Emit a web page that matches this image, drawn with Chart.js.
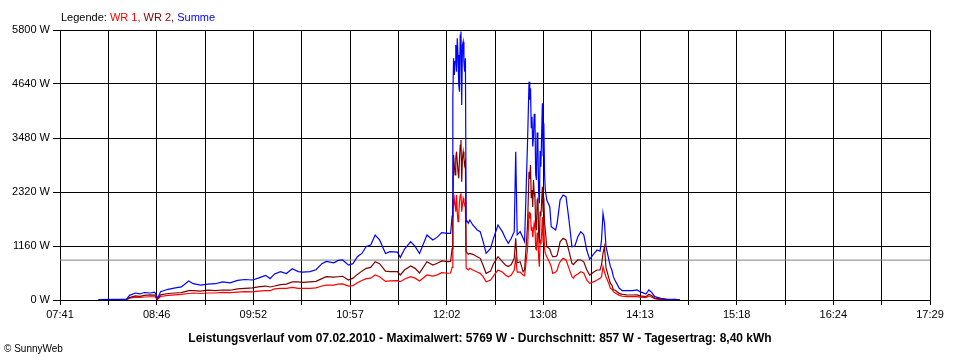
<!DOCTYPE html>
<html><head><meta charset="utf-8">
<script src="https://cdn.jsdelivr.net/npm/chart.js@4.4.1/dist/chart.umd.min.js"></script>
<style>
html,body{margin:0;padding:0;background:#fff;}
#wrap{position:relative;width:960px;height:360px;overflow:hidden;font-family:"Liberation Sans",Arial,sans-serif;color:#000;}
canvas{position:absolute;left:0;top:0;}
#legend{position:absolute;left:61px;top:11px;font-size:11px;line-height:12px;white-space:nowrap;}
#title{position:absolute;left:0;width:960px;top:331px;text-align:center;font-weight:bold;font-size:12px;line-height:14px;white-space:nowrap;}
#copy{position:absolute;left:4px;top:343px;font-size:10px;line-height:12px;white-space:nowrap;}
</style></head>
<body>
<div id="wrap">
<canvas id="c" width="960" height="360"></canvas>
<div id="legend">Legende: <span style="color:#ff0000">WR 1,</span> <span style="color:#800000">WR 2,</span> <span style="color:#0000ff">Summe</span></div>
<div id="title">Leistungsverlauf vom 07.02.2010 - Maximalwert: 5769 W - Durchschnitt: 857 W - Tagesertrag: 8,40 kWh</div>
<div id="copy">© SunnyWeb</div>
</div>
<script>
const times = [
 '08:07','08:18','08:26','08:28','08:32','08:35','08:38','08:42','08:45','08:47','08:49','08:54','08:59','09:03','09:08','09:11','09:16','09:21','09:26','09:31','09:36','09:41','09:46','09:51','09:55','10:00','10:03','10:06','10:10','10:14','10:18','10:22','10:25','10:30','10:34','10:38','10:41','10:46','10:49','10:52','10:56','10:59','11:02','11:05','11:08','11:11','11:14','11:17','11:21','11:24','11:29','11:31','11:34','11:38','11:41','11:44','11:49','11:53','11:56','11:59','12:03','12:05',
 '12:06','12:06:30','12:07','12:07:30','12:08','12:08:30','12:09','12:09:30','12:10','12:10:30','12:11','12:11:30','12:12','12:12:30','12:13','12:13:30','12:14','12:14:30','12:15','12:15:30','12:16','12:17',
 '12:18','12:20','12:23','12:25','12:27','12:29','12:32','12:34','12:37','12:40','12:42','12:44','12:46','12:48','12:49','12:50','12:52','12:54','12:55','12:57',
 '12:58','12:58:30','12:59','12:59:30','13:00','13:00:30','13:01','13:01:30','13:02','13:02:30','13:03','13:03:30','13:04','13:04:30','13:05','13:05:30','13:06','13:06:30','13:07','13:07:30','13:08','13:08:30','13:09',
 '13:10','13:12','13:13','13:14','13:16','13:17','13:18','13:19','13:21','13:23','13:25','13:27','13:28','13:29','13:31','13:33','13:35','13:37','13:39','13:42','13:44','13:46','13:47','13:48','13:49','13:50','13:52','13:53','13:54','13:55','13:56','13:59','14:01','14:04','14:08','14:11','14:13','14:17','14:19','14:21','14:23','14:27','14:31','14:37','14:40'
];
const summe = [
 10,15,20,100,150,130,160,150,170,40,180,230,260,280,410,350,320,340,350,390,370,420,440,430,470,530,460,560,610,570,670,610,600,610,650,780,830,800,850,860,750,780,930,1000,1150,1180,1396,1290,1000,1040,1030,916,1100,1253,1150,1000,1396,1289,1350,1446,1432,1430,
 1800,4332,5192,4833,5119,5477,4904,5620,5262,4618,4474,5692,5769,4189,5477,5549,5119,4904,5192,1682,1700,1650,
 1718,1611,1504,1468,1253,1002,1110,1325,1611,1468,1325,1217,1325,1468,3186,1400,1468,1325,1250,3400,
 4690,4300,4547,3700,3937,3300,3508,4000,3866,2700,2578,3600,3293,2300,2077,3200,2864,3500,4225,3100,3795,2700,2363,
 2148,2005,1575,1550,1504,1647,1900,2148,2255,2220,1718,1145,1150,1160,1360,1468,1400,1074,874,1002,1074,1050,1289,1862,1647,1150,859,716,644,501,430,251,200,200,200,215,179,129,215,160,72,36,21,14,0
];
const wr2 = [
 0,5,10,50,90,80,100,110,105,25,110,140,150,160,200,200,190,210,200,215,210,240,250,260,280,300,280,300,330,340,390,390,380,390,400,460,500,490,500,510,430,470,550,620,680,700,823,780,620,610,610,537,650,730,680,580,823,752,790,838,823,830,
 1100,1611,3115,2900,2685,3044,3186,2971,2757,2614,3044,3329,3437,2541,3044,3186,3044,2900,2971,1038,1038,981,
 1000,981,930,895,740,573,620,780,930,823,752,720,760,895,1325,800,823,608,650,1611,
 2757,2600,2900,2200,2363,2000,2578,2300,2200,1600,1500,2150,2200,1400,1217,1900,1800,2100,2434,1900,2200,1650,1504,
 1145,1100,1000,930,930,960,1100,1250,1325,1289,1050,788,760,800,860,859,820,650,537,608,644,644,760,1002,1145,700,465,358,322,215,215,143,120,110,107,110,90,72,122,90,36,20,10,5,0
];
const wr1 = [
 0,5,10,40,60,55,65,70,70,15,75,100,110,120,140,150,140,150,150,165,160,170,180,175,190,200,200,240,250,250,270,250,250,250,260,300,320,320,340,345,300,310,370,420,460,470,537,500,400,410,415,393,450,501,470,410,537,515,540,587,575,580,
 700,2112,2041,2184,2041,1897,2255,1897,1682,1826,2112,2255,2291,1897,2041,2184,2112,2041,2004,681,681,644,
 680,644,600,573,501,393,430,520,644,600,537,500,537,644,895,600,600,537,520,1100,
 1897,1750,1862,1500,1575,1350,1500,1650,1575,1100,1080,1450,1300,900,716,1300,1200,1400,1790,1250,1600,1100,1000,
 930,800,716,573,600,640,750,820,895,860,680,500,465,520,560,608,580,430,358,394,430,465,500,716,600,500,350,251,230,179,158,100,80,72,72,72,60,50,86,60,29,14,7,0,0
];
const average = 857;
const xTickLabels = ['07:41','08:46','09:52','10:57','12:02','13:08','14:13','15:18','16:24','17:29'];
const yTickValues = [0,1160,2320,3480,4640,5800];

const toMin = s => { const p = s.split(':').map(Number); return p[0]*60 + p[1] + (p[2] || 0)/60; };
const xMin = toMin(xTickLabels[0]);
const xMax = toMin(xTickLabels[xTickLabels.length-1]);
const nGrid = (xTickLabels.length - 1) * 2;
const pts = arr => arr.map((v,i) => ({x: toMin(times[i]), y: v}));

Chart.defaults.font.family = '"Liberation Sans", Arial, sans-serif';
Chart.defaults.font.size = 11;
Chart.defaults.color = '#000';

new Chart(document.getElementById('c'), {
  type: 'line',
  data: {
    datasets: [
      {label:'Summe', data: pts(summe), borderColor:'#0000ff', order:1},
      {label:'WR 2', data: pts(wr2), borderColor:'#800000', order:2},
      {label:'WR 1', data: pts(wr1), borderColor:'#ff0000', order:3},
      {label:'Durchschnitt', data: [{x:xMin,y:average},{x:xMax,y:average}], borderColor:'#808080', borderWidth:1, order:4}
    ]
  },
  options: {
    responsive: false,
    animation: false,
    devicePixelRatio: 1,
    parsing: false,
    elements: { point: { radius: 0 }, line: { borderWidth: 1.2, tension: 0, fill: false } },
    layout: { padding: { top: 30, right: 30, left: 0, bottom: 0 } },
    plugins: { legend: { display: false }, tooltip: { enabled: false }, title: { display: false } },
    scales: {
      x: {
        type: 'linear', min: xMin, max: xMax,
        afterBuildTicks: s => { s.ticks = Array.from({length: nGrid+1}, (_, i) => ({value: xMin + i*(xMax-xMin)/nGrid})); },
        afterFit: s => { s.height = 60; },
        ticks: { autoSkip: false, maxRotation: 0, padding: 3, color:'#000',
          callback: (v, i) => (i % 2 === 0 ? xTickLabels[i/2] : '') },
        grid: { color: '#000', lineWidth: 1, tickLength: 5, tickColor: '#000', drawTicks: true },
        border: { display: true, color: '#000', width: 1 }
      },
      y: {
        type: 'linear', min: yTickValues[0], max: yTickValues[yTickValues.length-1],
        afterBuildTicks: s => { s.ticks = yTickValues.map(v => ({value: v})); },
        afterFit: s => { s.width = 60; },
        ticks: { padding: 3, color:'#000', callback: v => v + ' W' },
        grid: { color: '#000', lineWidth: 1, tickLength: 7, tickColor: '#000', drawTicks: true },
        border: { display: true, color: '#000', width: 1 }
      }
    }
  }
});
</script>
</body></html>
